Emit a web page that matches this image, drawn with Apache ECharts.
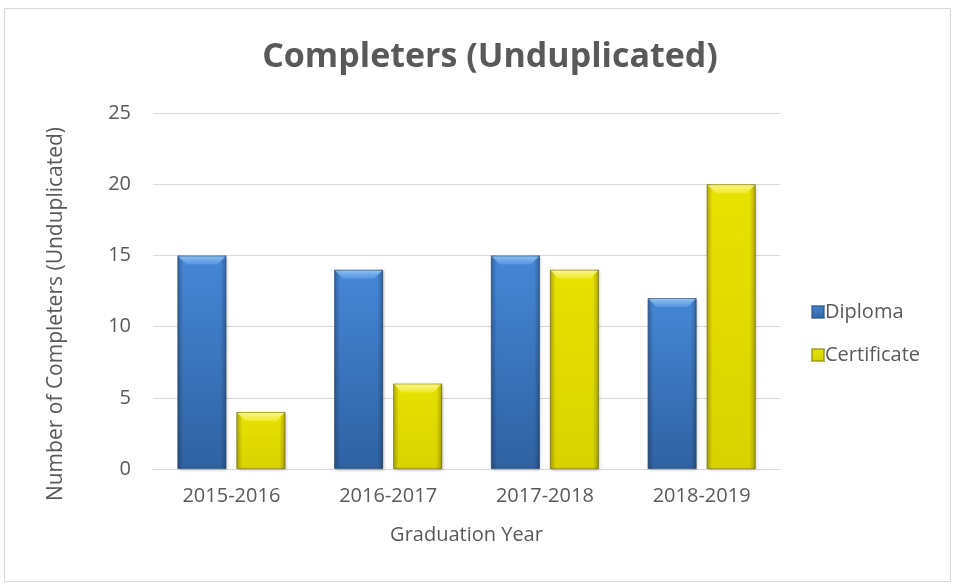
<!DOCTYPE html>
<html>
<head>
<meta charset="utf-8">
<script src="https://cdn.jsdelivr.net/npm/echarts@6/dist/echarts.min.js"></script>
<style>
  html, body { margin: 0; padding: 0; background: #fff; }
  #chart { width: 956px; height: 584px; }
</style>
</head>
<body>
<div id="chart"></div>
<script>
var years = ["2015-2016", "2016-2017", "2017-2018", "2018-2019"];
var diploma = [15, 14, 15, 12];
var certificate = [4, 6, 14, 20];
var yTicks = [0, 5, 10, 15, 20, 25];

var textColor = "#595959";
var font = "Open Sans";
var barW = 49;
var barGapPx = 10;

// 上亮下暗的柱子底色
function barFill(top, bottom) {
    return new echarts.graphic.LinearGradient(0, 0, 0, 1, [
        {offset: 0, color: top},
        {offset: 1, color: bottom}
    ]);
}

// 顶部斜面 + 两侧阴影，用自定义系列叠加在柱子上
function bevel(side, lightA, lightB) {
    return function(params, api) {
        var i = api.value(0);
        var topPt = api.coord([i, api.value(1)]);
        var basePt = api.coord([i, 0]);
        var off = (barW + barGapPx) / 2 * side;
        var x0 = topPt[0] + off - barW / 2;
        var x1 = x0 + barW;
        var yt = topPt[1];
        var yb = basePt[1];
        var edge = 6;
        return {
            type: "group",
            children: [
                {
                    type: "rect",
                    shape: {x: x0, y: yt, width: edge, height: yb - yt},
                    style: {fill: new echarts.graphic.LinearGradient(0, 0, 1, 0, [
                        {offset: 0, color: "rgba(0,0,0,0.22)"},
                        {offset: 1, color: "rgba(0,0,0,0)"}
                    ])}
                },
                {
                    type: "rect",
                    shape: {x: x1 - edge, y: yt, width: edge, height: yb - yt},
                    style: {fill: new echarts.graphic.LinearGradient(0, 0, 1, 0, [
                        {offset: 0, color: "rgba(0,0,0,0)"},
                        {offset: 1, color: "rgba(0,0,0,0.25)"}
                    ])}
                },
                {
                    type: "polygon",
                    shape: {points: [[x0 + 1, yt + 1], [x1 - 1, yt + 1], [x1 - 9, yt + 9], [x0 + 9, yt + 9]]},
                    style: {fill: new echarts.graphic.LinearGradient(0, 0, 0, 1, [
                        {offset: 0, color: lightA},
                        {offset: 1, color: lightB}
                    ])}
                }
            ]
        };
    };
}

var diplomaPts = years.map(function(y, i) { return [i, diploma[i]]; });
var certificatePts = years.map(function(y, i) { return [i, certificate[i]]; });

var myChart = echarts.init(document.getElementById("chart"));
var option = {
    animation: false,
    textStyle: {fontFamily: font},
    graphic: [{
        type: "rect",
        shape: {x: 4.5, y: 8.5, width: 946, height: 573},
        style: {fill: "none", stroke: "#d9d9d9", lineWidth: 1}
    }],
    title: {
        text: "Completers (Unduplicated)",
        left: 485,
        textAlign: "center",
        top: 35,
        textStyle: {fontSize: 34, fontWeight: "bold", color: textColor, fontFamily: font}
    },
    legend: {
        orient: "vertical",
        left: 806,
        top: 297,
        itemWidth: 12,
        itemHeight: 12,
        itemGap: 23,
        icon: "rect",
        textStyle: {fontSize: 20, color: textColor, padding: [0, 0, 0, -4]},
        data: ["Diploma", "Certificate"]
    },
    grid: {left: 153, right: 176, top: 113, bottom: 115},
    xAxis: {
        type: "category",
        data: years,
        name: "Graduation Year",
        nameLocation: "middle",
        nameGap: 56,
        nameTextStyle: {fontSize: 20, color: textColor},
        axisLine: {lineStyle: {color: "#d9d9d9"}},
        axisTick: {show: false},
        axisLabel: {fontSize: 20, color: textColor, margin: 17}
    },
    yAxis: {
        type: "value",
        min: yTicks[0],
        max: yTicks[yTicks.length - 1],
        interval: 5,
        name: "Number of Completers (Unduplicated)",
        nameLocation: "middle",
        nameGap: 86,
        nameTextStyle: {fontSize: 21, color: textColor, padding: [0, 46, 0, 0]},
        axisLine: {show: false},
        axisTick: {show: false},
        axisLabel: {fontSize: 20, color: textColor, margin: 22},
        splitLine: {lineStyle: {color: "#d9d9d9"}}
    },
    series: [
        {
            name: "Diploma",
            type: "bar",
            data: diploma,
            barWidth: barW,
            barGap: (barGapPx / barW * 100) + "%",
            itemStyle: {
                color: barFill("#4587d6", "#2f62a2"),
                borderColor: "rgba(40,80,130,0.6)",
                borderWidth: 1,
                shadowColor: "rgba(0,0,0,0.25)",
                shadowBlur: 3,
                shadowOffsetX: 1,
                shadowOffsetY: 1
            }
        },
        {
            name: "Certificate",
            type: "bar",
            data: certificate,
            barWidth: barW,
            itemStyle: {
                color: barFill("#e8e200", "#d8d200"),
                borderColor: "rgba(140,135,0,0.6)",
                borderWidth: 1,
                shadowColor: "rgba(0,0,0,0.25)",
                shadowBlur: 3,
                shadowOffsetX: 1,
                shadowOffsetY: 1
            }
        },
        {
            name: "DiplomaBevel",
            type: "custom",
            data: diplomaPts,
            encode: {x: 0, y: 1},
            z: 5,
            silent: true,
            renderItem: bevel(-1, "rgba(170,215,255,0.75)", "rgba(120,180,240,0.35)")
        },
        {
            name: "CertificateBevel",
            type: "custom",
            data: certificatePts,
            encode: {x: 0, y: 1},
            z: 5,
            silent: true,
            renderItem: bevel(1, "rgba(255,255,190,0.75)", "rgba(255,250,120,0.35)")
        }
    ]
};
myChart.setOption(option);
</script>
</body>
</html>
